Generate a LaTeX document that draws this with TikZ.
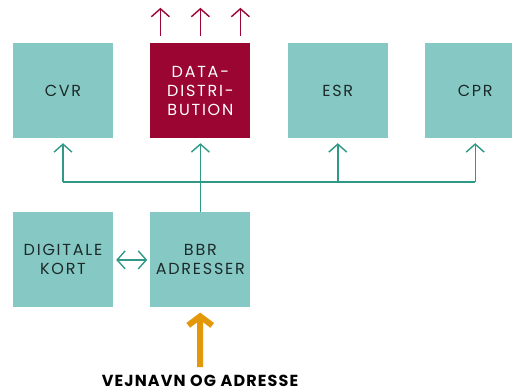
\documentclass[tikz,border=0pt]{standalone}
\usepackage{fontspec}
\setmainfont{Poppins}
\newfontfamily\boxfont{Poppins}[LetterSpace=11]
\newfontfamily\inputfont{Poppins}[LetterSpace=7]
\usetikzlibrary{positioning, arrows.meta}

\definecolor{boxteal}{HTML}{86C9C4}
\definecolor{lineteal}{HTML}{2F9886}
\definecolor{datared}{HTML}{9A0532}
\definecolor{inorange}{HTML}{E3980A}
\definecolor{textdark}{HTML}{1C2A2A}

\begin{document}
\begin{tikzpicture}[x=1pt, y=-1pt, node distance=37pt and 37pt,
  b/.style={rectangle, fill=boxteal, minimum width=100pt, minimum height=95pt, inner sep=0pt, align=center, text=textdark, font=\boxfont\fontsize{16}{19}\selectfont},
  r/.style={b, fill=datared, text=white},
  t/.style={line width=1.4pt, draw=lineteal},
  ta/.style={t, -{Straight Barb[length=8pt, width=18pt, line width=1.4pt]}, shorten >=5pt},
  ra/.style={line width=1.4pt, draw=datared, -{Straight Barb[length=8pt, width=18pt, line width=1.4pt]}}]
	\useasboundingbox (0,0) rectangle (512,391);

	\node[b] (CVR) at (63,90.5) {CVR};
	\node[r, right=of CVR] (DATA) {DATA-\\DISTRI-\\BUTION};
	\node[b, right=of DATA] (ESR) {ESR};
	\node[b, right=of ESR] (CPR) {CPR};
	\node[b, below=74pt of CVR] (DIG) {DIGITALE\\KORT};
	\node[b, below=74pt of DATA] (BBR) {BBR\\ADRESSER};
	\node[font=\inputfont\fontsize{16}{17}\selectfont\bfseries, text=black, inner sep=0pt] (input) at (200,381) {VEJNAVN OG ADRESSE};

	\coordinate (bus) at (0,182);

	% bus og pile op
	\draw[t] (CVR.south |- bus) -- (CPR.south |- bus);
	\draw[ta] (BBR.north) -- (DATA.south);
	\foreach \n in {CVR, ESR, CPR}
		\draw[ta] (\n.south |- bus) -- (\n.south);

	% distribution
	\foreach \dx in {-40, 0, 40}
		\draw[ra] ([xshift=\dx pt, yshift=7pt]DATA.north) -- ([xshift=\dx pt, yshift=35pt]DATA.north);

	\draw[t, {Straight Barb[length=8pt, width=18pt, line width=1.4pt]}-{Straight Barb[length=8pt, width=18pt, line width=1.4pt]}, shorten <=3pt, shorten >=3pt] (DIG) -- (BBR);

	\draw[line width=6pt, draw=inorange, -{Straight Barb[length=9pt, width=24pt, line width=6pt]}, shorten <=8pt, shorten >=5pt] (input) -- (BBR);
\end{tikzpicture}
\end{document}
